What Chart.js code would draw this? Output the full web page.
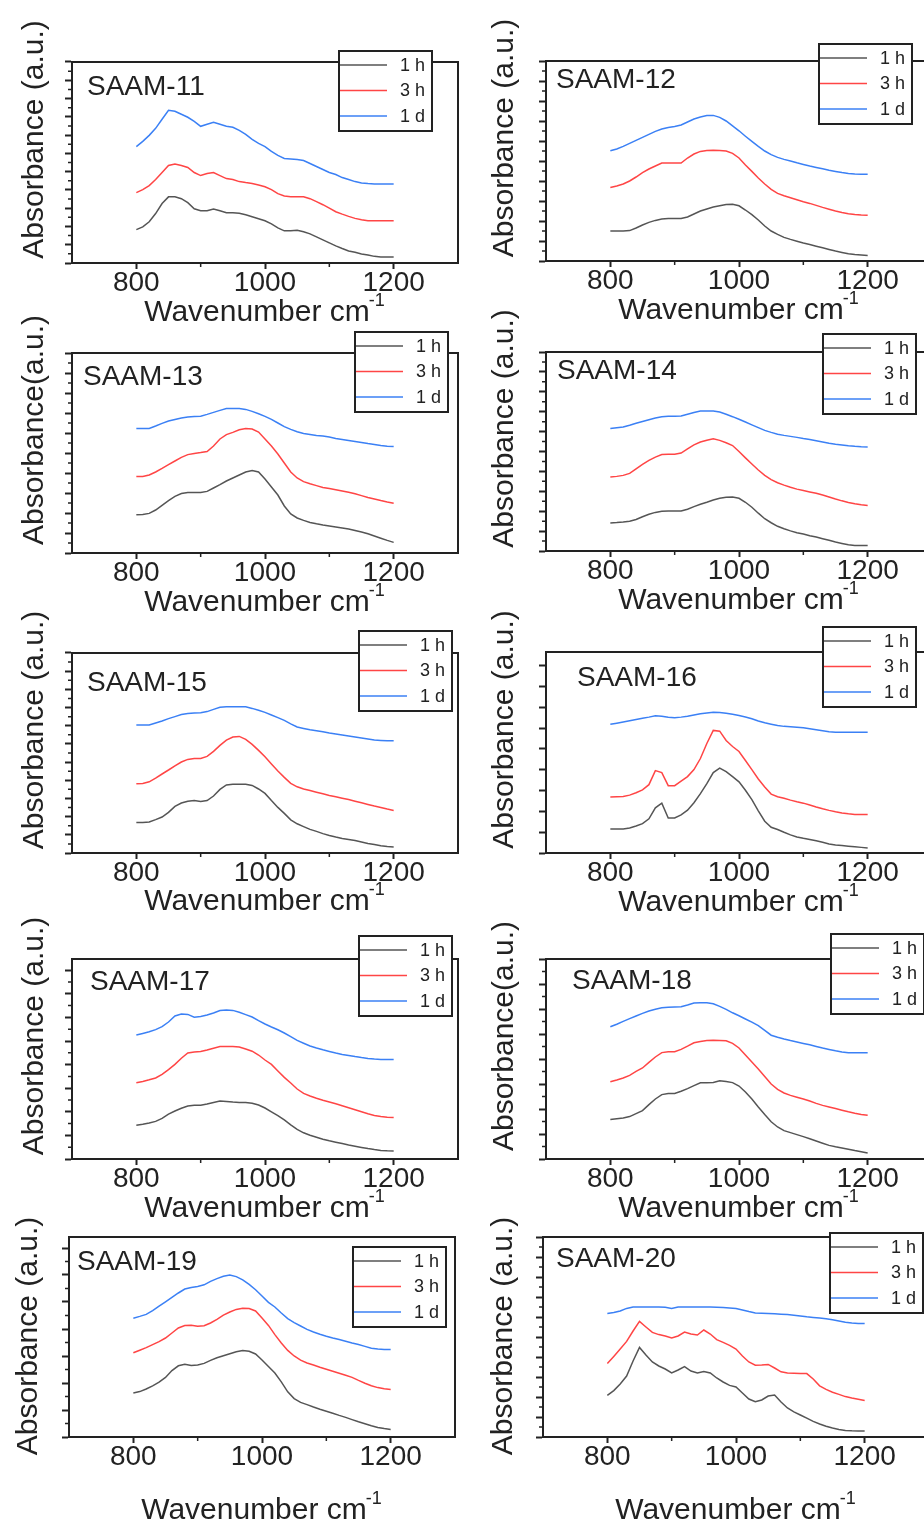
<!DOCTYPE html>
<html>
<head>
<meta charset="utf-8">
<script src="https://cdn.jsdelivr.net/npm/chart.js@4.4.1/dist/chart.umd.min.js"></script>
<style>
  html, body { margin: 0; padding: 0; background: #fff; overflow: hidden; }
  body { width: 924px; height: 1524px; position: relative; }
  canvas { position: absolute; }
</style>
</head>
<body>
<script>
// wavenumber axis shared by every spectrum (cm-1)
const wavenumbers = [800, 810, 820, 830, 840, 850, 860, 870, 880, 890, 900, 910, 920, 930, 940, 950, 960, 970, 980, 990,
  1000, 1010, 1020, 1030, 1040, 1050, 1060, 1070, 1080, 1090, 1100, 1110, 1120, 1130, 1140, 1150, 1160, 1170, 1180, 1190, 1200];
const xTickLabels = [800, 1000, 1200];
const xMinorTicks = [900, 1100];
const seriesLabels = ['1 h', '3 h', '1 d'];
const sampleNames = ['SAAM-11', 'SAAM-12', 'SAAM-13', 'SAAM-14', 'SAAM-15', 'SAAM-16', 'SAAM-17', 'SAAM-18', 'SAAM-19', 'SAAM-20'];

// absorbance, a.u. (0 = bottom of frame, 100 = top of frame)
const saam11_1h = [16.6,18,20.5,24.6,29.6,32.9,32.9,32,30,27,26,26,26.8,26,25,25,24.8,24,23,22,21,19.5,17.5,16,16,16.3,15.5,14.5,13,11.5,10,8.5,7.2,6,5.3,4.5,4,3.3,3,3,3];
const saam11_3h = [35,36.5,38.5,41.5,45,48.5,49.3,48.5,47.5,45,43.5,44.5,45,43.5,42,41.5,40.5,40,39.6,38.8,37.9,36.5,34.5,33.3,33,33,33,32,30.5,29,27.3,25.5,24.3,23.2,22.2,21.5,21,21,21,21,21];
const saam11_1d = [57.9,60.5,63.5,67,71.5,76,75.5,74,72.5,70.5,68,69,70,69,68,67.5,66,64,61.5,59.5,57.9,55.5,53.5,52,51.8,51.5,51,49.5,48,46.5,45,44,42.5,41.5,40.5,39.8,39.5,39.3,39.3,39.3,39.3];

const saam12_1h = [15,15,15,15.2,16.5,18,19.3,20.3,21,21.2,21.2,21.2,22,23.5,25,26,27,27.6,28.2,28.4,27.6,25.5,23.2,20.5,17.5,15,13.3,11.8,10.8,9.9,9,8.2,7.4,6.6,5.8,5,4.3,3.6,3.2,3,2.8];
const saam12_3h = [36.7,37.5,38.5,40,42,44.2,46,47.5,49,49,49,49,51.5,53.5,54.8,55.3,55.4,55.3,55,53.8,51.5,48,44.8,41.5,38.5,35.8,33.8,32.6,31.6,30.6,29.6,28.8,27.8,26.8,25.9,25,24.2,23.6,23.2,23,22.9];
const saam12_1d = [55.1,56,57.3,58.8,60.3,61.8,63.3,64.8,66,66.7,67.2,68,69.5,71,72,72.8,72.8,71.8,70,67.6,65.1,62.4,59.8,57.3,55,53.2,51.8,50.8,50,49.1,48.3,47.5,46.8,46.1,45.4,44.8,44.2,43.7,43.5,43.4,43.4];

const saam13_1h = [19.1,19.3,19.8,21.5,23.8,26.2,28.3,29.7,30.2,30.2,30.2,30.8,32.5,34.2,36,37.5,39,40.5,41.2,40.5,37,33,29,23.5,19.5,17.5,16.3,15.3,14.6,14,13.5,13,12.5,12,11.3,10.5,9.6,8.5,7.4,6.3,5.3];
const saam13_3h = [38.2,38.2,39,40.5,42.3,44.2,46,47.8,49.2,49.8,50.2,50.7,53.5,57,59.2,60.3,61.6,62.3,62,60.5,57,53.5,49.5,45,40.5,37.5,35.7,34.6,33.7,32.8,32.2,31.6,31,30.4,29.6,28.7,27.8,27,26.2,25.5,24.9];
const saam13_1d = [62.3,62.3,62.3,63.5,64.8,66,66.8,67.5,68,68.3,68.4,69.3,70.3,71.3,72.2,72.3,72.3,71.8,70.8,69.6,68.3,66.8,65,63.2,61.8,60.6,59.8,59.3,58.8,58.5,58,57.3,56.8,56.3,55.8,55.3,54.7,54.2,53.7,53.4,53.2];

const saam14_1h = [14.1,14.3,14.6,15,15.8,17.2,18.5,19.4,20,20.1,20.1,20.1,21,22.3,23.5,24.5,25.6,26.5,27,27.1,26.5,24.5,22,19,16.2,14.2,12.4,11.2,10.1,9.2,8.5,7.7,7,6.2,5.4,4.5,3.8,3.1,2.8,2.8,2.8];
const saam14_3h = [37.2,37.5,38,39,41.3,43.5,45.5,47.2,48.5,48.6,48.6,49.2,51.3,53.3,54.8,55.7,56.4,55.6,54.4,53,50,46.8,43.7,40.7,38,35.9,34.3,33.1,32,31.1,30.4,29.7,29,28.1,27.1,26.1,25.2,24.4,23.7,23.2,22.9];
const saam14_1d = [61.5,61.9,62.3,63.2,64.2,65.1,66,66.8,67.5,67.7,67.7,67.8,68.7,69.6,70.3,70.4,70.4,69.8,68.7,67.5,66.2,64.8,63.4,62,60.6,59.6,58.7,58.1,57.6,57.1,56.5,56,55.4,54.8,54.2,53.7,53.3,52.9,52.6,52.4,52.3];

const saam15_1h = [15.3,15.3,15.5,16.7,18,20.3,23.3,25,25.9,26.2,25.8,26.2,28.5,31.8,34,34.4,34.4,34.4,33.8,32,29.8,26.2,22.8,19.8,16.6,14.6,13.2,11.8,10.8,9.7,8.8,8,7.3,6.8,6.2,5.5,4.8,4.2,3.6,3.2,3];
const saam15_3h = [34.6,34.8,35.6,37.4,39.5,41.5,43.6,45.5,46.8,47.3,47.3,48.3,50.8,53.8,56.4,58,58.3,56.8,54.3,51.3,48.1,44.5,41,37.8,34.8,33.1,32,31.2,30.4,29.6,28.8,28.1,27.4,26.7,25.9,25.1,24.3,23.5,22.8,22,21.3];
const saam15_1d = [64,64,64,65,66,67.2,68.2,69.2,69.7,70,70.1,70.7,71.8,72.9,73.1,73.1,73.1,73.1,72.3,71.4,70.3,69,67.7,66.3,64.6,63,62.3,61.6,61.1,60.6,60,59.5,59,58.5,58,57.5,57,56.5,56.3,56.1,56.1];

const saam16_1h = [12,12,12,12.4,13.4,14.6,17,22.5,24.8,17.4,17.4,19,21.3,25,29.5,34.5,40,42.2,40.5,38,35.4,31.2,26.6,21,15.8,12.8,11.7,10.3,9,8,7.3,6.7,6.1,5.3,4.5,4,3.7,3.4,3.1,2.8,2.5];
const saam16_3h = [27.9,28,28.1,28.8,30,31.4,34,41,40,33.5,33.5,35.7,38,41.5,47,54.5,61,60.6,56,53,50.5,46,41.5,36.8,32.8,29.3,28,27.2,26.3,25.5,24.8,23.9,22.9,22,21.2,20.5,19.9,19.5,19.2,19.1,19.1];
const saam16_1d = [64,64.6,65.2,65.8,66.4,67,67.6,68.3,68,67.5,67.3,67.6,68,68.7,69.3,69.7,70,69.9,69.5,69,68.4,67.7,66.8,65.7,64.8,64.1,63.4,63,62.8,62.6,62.3,61.8,61.3,60.8,60.3,60.1,60.1,60.1,60.1,60.1,60.1];

const saam17_1h = [16.9,17.4,18,18.8,20.3,22.4,24,25.4,26.5,26.9,26.9,27.5,28.3,29,28.8,28.5,28.3,28.2,27.9,27,25.5,23.6,21.7,19.6,17.1,14.8,13.1,11.9,10.9,9.9,9.1,8.4,7.7,7,6.4,5.8,5.2,4.7,4.3,4.1,4];
const saam17_3h = [38.1,38.8,39.6,40.5,42.3,44.7,47.3,50.4,53,53.5,53.7,54.5,55.4,56.2,56.2,56.2,56,55,53.9,52,49.5,47.3,44,40.8,38,35,32.8,31.5,30.4,29.4,28.5,27.6,26.6,25.6,24.6,23.6,22.6,21.8,21.2,20.9,20.7];
const saam17_1d = [62,62.8,63.6,64.7,66.2,68.5,71.5,72.5,72.3,70.9,71.3,72,73,74.2,74.5,74.3,73.4,72.2,71,69.2,67.5,66,64.6,63,61.2,59.3,57.9,56.5,55.5,54.6,53.8,53,52.3,51.8,51.2,50.7,50.3,50,49.8,49.8,49.8];

const saam18_1h = [19.7,20.1,20.5,21.2,22.7,24.2,27.2,30,32.2,32.7,32.8,33.9,35.2,36.7,38.1,38.1,38.3,39.1,38.7,38.2,36.5,33.5,30,26,22.2,18.6,16,14.2,13.2,12.2,11.2,10.1,9,7.9,6.8,6.1,5.5,4.9,4.2,3.6,3];
const saam18_3h = [38.6,39.5,40.5,41.8,43.8,45.5,48.3,51,53.2,53.6,53.6,54.8,56.4,58.1,58.7,59.2,59.4,59.3,59.1,57.8,55.5,52,48.5,45,41.2,37.5,34.8,33,31.8,30.9,30,29,27.8,26.8,26,25.2,24.4,23.6,22.9,22.3,21.9];
const saam18_1d = [66.1,67.4,68.8,70.2,71.5,72.8,74,74.9,75.6,75.9,76,76.1,77,78,78.1,78.1,77.6,76.3,74.8,73.1,71.6,70,68.4,66.7,64.3,61.9,60.9,60,59.2,58.5,57.8,57.1,56.3,55.5,54.8,54.1,53.5,53.1,53.1,53.1,53.1];

const saam19_1h = [22,22.7,24,25.6,27.4,29.8,33.2,35.6,36.4,35.8,36,36.8,38.3,39.6,40.6,41.6,42.6,43.2,42.9,41.5,38.5,35.2,32,27.6,22.6,19.2,17.3,16.2,15,13.9,12.9,11.9,10.8,9.8,8.7,7.6,6.6,5.6,4.8,4.2,3.7];
const saam19_3h = [42.1,43.4,44.7,46.2,47.7,49.5,52,54.5,55.7,55.9,55.4,55.6,57,58.8,60.9,62.5,63.8,64.4,64.2,63,59.5,55.8,51.2,47,43.3,40.5,38.4,37,36,34.9,33.9,32.9,31.9,30.9,29.8,28.3,26.9,25.6,24.7,24.1,23.7];
const saam19_1d = [59.4,60.3,61.3,63.2,65.4,67.6,69.8,72,74,74.8,75.3,76.1,77.8,79.2,80.4,81,80.2,78.6,76.3,73.6,70.5,67.3,65,62,59.2,57.2,55.5,53.8,52.5,51.4,50.4,49.5,48.7,47.9,47,46.2,45.3,44.4,44,43.8,43.8];

const saam20_1h = [20.8,23.2,26.5,30.5,38,44.8,41,37.5,35.5,34,32,33.5,35.2,33,32,32.8,32,29.5,27.5,25.8,25,22,19,17.6,18.5,20.5,21,17.5,14.5,12.6,11,9.4,7.8,6.5,5.4,4.5,3.8,3.3,3.1,3,3];
const saam20_3h = [36.7,40.3,44,47.8,53,57.8,55,52.3,51.2,50.5,49.5,50.5,52.5,51.5,51,53.5,51.5,48.7,47.3,45.8,44,40.5,37.5,35.9,36,36.3,34.5,32.6,32,31.9,31.8,31.7,29,25.6,23.8,22.4,21.3,20.2,19.5,18.9,18.3];
const saam20_1d = [61.7,62.2,63,64.3,65,65,65,65,65,64.9,64.3,65,65,65,65,65,65,64.9,64.7,64.5,64.2,63.5,62.7,62,61.9,61.8,61.6,61.4,61.2,60.9,60.5,60.1,59.8,59.5,59.1,58.6,58,57.4,57,56.8,56.7];

const spectra = [
  [saam11_1h, saam11_3h, saam11_1d], [saam12_1h, saam12_3h, saam12_1d],
  [saam13_1h, saam13_3h, saam13_1d], [saam14_1h, saam14_3h, saam14_1d],
  [saam15_1h, saam15_3h, saam15_1d], [saam16_1h, saam16_3h, saam16_1d],
  [saam17_1h, saam17_3h, saam17_1d], [saam18_1h, saam18_3h, saam18_1d],
  [saam19_1h, saam19_3h, saam19_1d], [saam20_1h, saam20_3h, saam20_1d],
];

// layout of each panel (page pixels)
const layout = [
  {left: 72,  top: 62,   bottom: 263,  yStep: 100 / 11, minor: true,  name: [15, 25], legend: [339, 51],   yTitle: 'Absorbance (a.u.)', yTitleX: 43,  shift: -23, xTitleDy: 58},
  {left: 546, top: 61,   bottom: 261,  yStep: 10,       minor: true,  name: [10, 19], legend: [819, 44],   yTitle: 'Absorbance (a.u.)', yTitleX: 513, shift: -23, xTitleDy: 58},
  {left: 72,  top: 353,  bottom: 553,  yStep: 10,       minor: true,  name: [11, 24], legend: [355, 332],  yTitle: 'Absorbance(a.u.)',  yTitleX: 43,  shift: -23, xTitleDy: 58},
  {left: 546, top: 352,  bottom: 551,  yStep: 10,       minor: true,  name: [11, 19], legend: [823, 334],  yTitle: 'Absorbance (a.u.)', yTitleX: 513, shift: -23, xTitleDy: 58},
  {left: 72,  top: 653,  bottom: 853,  yStep: 100 / 11, minor: true,  name: [15, 30], legend: [359, 631],  yTitle: 'Absorbance (a.u.)', yTitleX: 43,  shift: -23, xTitleDy: 57},
  {left: 546, top: 652,  bottom: 853,  yStep: 10.35,    minor: false, name: [31, 26], legend: [823, 627],  yTitle: 'Absorbance (a.u.)', yTitleX: 513, shift: -23, xTitleDy: 58},
  {left: 72,  top: 959,  bottom: 1159, yStep: 11.8,     minor: true,  name: [18, 23], legend: [359, 936],  yTitle: 'Absorbance (a.u.)', yTitleX: 43,  shift: -23, xTitleDy: 58},
  {left: 546, top: 959,  bottom: 1159, yStep: 12.5,     minor: true,  name: [26, 22], legend: [831, 934],  yTitle: 'Absorbance(a.u.)',  yTitleX: 513, shift: -23, xTitleDy: 58},
  {left: 69,  top: 1237, bottom: 1437, yStep: 13.5,     minor: true,  name: [8, 25],  legend: [353, 1247], yTitle: 'Absorbance (a.u.)', yTitleX: 37,  shift: -1,  xTitleDy: 82},
  {left: 543, top: 1237, bottom: 1437, yStep: 10,       minor: true,  name: [13, 22], legend: [830, 1233], yTitle: 'Absorbance (a.u.)', yTitleX: 512, shift: -1,  xTitleDy: 82},
];

const colors = ['#555555', '#ff4545', '#3b80f5'];
const ink = '#222222';
const family = '"Liberation Sans", Arial, sans-serif';
const plotW = 386;
const xAxisH = 40; // room kept under the frame for the tick labels

function decor(i, p, cx, cy) {
  return {
    id: 'decor',
    afterDraw(chart) {
      const ctx = chart.ctx;
      const a = chart.chartArea;
      const xs = chart.scales.x, ys = chart.scales.y;
      ctx.save();
      // top + right frame
      ctx.strokeStyle = ink;
      ctx.lineWidth = 2;
      ctx.beginPath();
      ctx.moveTo(a.left - 1, a.top);
      ctx.lineTo(a.right, a.top);
      ctx.lineTo(a.right, a.bottom);
      ctx.stroke();

      // minor ticks
      ctx.lineWidth = 1.5;
      ctx.beginPath();
      xMinorTicks.forEach(v => {
        const px = xs.getPixelForValue(v);
        ctx.moveTo(px, a.bottom);
        ctx.lineTo(px, a.bottom + 4);
      });
      if (p.minor) {
        ys.ticks.forEach(t => {
          const v = t.value + p.yStep / 2;
          if (v < 100) {
            const py = ys.getPixelForValue(v);
            ctx.moveTo(a.left - 4, py);
            ctx.lineTo(a.left, py);
          }
        });
      }
      ctx.stroke();

      ctx.fillStyle = ink;
      // sample name
      ctx.font = `28px ${family}`;
      ctx.textAlign = 'left';
      ctx.textBaseline = 'middle';
      ctx.fillText(sampleNames[i], a.left + p.name[0], a.top + p.name[1]);

      // y title
      ctx.save();
      ctx.translate(p.yTitleX - cx, (a.top + a.bottom) / 2 + p.shift);
      ctx.rotate(-Math.PI / 2);
      ctx.font = `30px ${family}`;
      ctx.textAlign = 'center';
      ctx.textBaseline = 'alphabetic';
      ctx.fillText(p.yTitle, 0, 0);
      ctx.restore();

      // x title with superscript
      const main = 'Wavenumber cm', sup = '-1';
      ctx.font = `30px ${family}`;
      const wMain = ctx.measureText(main).width;
      ctx.font = `18px ${family}`;
      const wSup = ctx.measureText(sup).width;
      const x0 = (a.left + a.right) / 2 - (wMain + wSup) / 2;
      const base = a.bottom + p.xTitleDy;
      ctx.textAlign = 'left';
      ctx.textBaseline = 'alphabetic';
      ctx.font = `30px ${family}`;
      ctx.fillText(main, x0, base);
      ctx.font = `18px ${family}`;
      ctx.fillText(sup, x0 + wMain - 1, base - 15);

      // legend box
      const bx = p.legend[0] - cx, by = p.legend[1] - cy;
      ctx.fillStyle = '#fff';
      ctx.fillRect(bx, by, 93, 80);
      ctx.strokeStyle = ink;
      ctx.lineWidth = 2;
      ctx.strokeRect(bx, by, 93, 80);
      chart.data.datasets.forEach((ds, k) => {
        const y = by + 14 + k * 25.5;
        ctx.strokeStyle = ds.borderColor;
        ctx.lineWidth = 1.5;
        ctx.beginPath();
        ctx.moveTo(bx + 1, y);
        ctx.lineTo(bx + 48, y);
        ctx.stroke();
        ctx.fillStyle = ink;
        ctx.font = `18px ${family}`;
        ctx.textAlign = 'right';
        ctx.textBaseline = 'middle';
        ctx.fillText(ds.label, bx + 86, y + 1);
      });
      ctx.restore();
    }
  };
}

layout.forEach((p, i) => {
  const cx = p.left < 300 ? 0 : 470;
  const cy = p.top - 60;
  const h = i >= 8 ? 1524 - cy : 330;
  const canvas = document.createElement('canvas');
  canvas.width = 470;
  canvas.height = h;
  canvas.style.left = cx + 'px';
  canvas.style.top = cy + 'px';
  canvas.style.width = '470px';
  canvas.style.height = h + 'px';
  document.body.appendChild(canvas);

  const padLeft = p.left - cx;
  new Chart(canvas, {
    type: 'line',
    data: {
      datasets: spectra[i].map((arr, k) => ({
        label: seriesLabels[k],
        data: arr.map((v, j) => ({x: wavenumbers[j], y: v})),
        borderColor: colors[k],
        borderWidth: 1.5,
        pointRadius: 0,
        tension: 0,
        fill: false,
      })),
    },
    options: {
      responsive: false,
      animation: false,
      devicePixelRatio: 1,
      layout: {
        padding: {left: padLeft, top: 60, right: 470 - padLeft - plotW, bottom: h - 60 - (p.bottom - p.top) - xAxisH},
      },
      plugins: {legend: {display: false}, tooltip: {enabled: false}},
      scales: {
        x: {
          type: 'linear',
          min: 700,
          max: 1300,
          afterFit: s => { s.height = xAxisH; },
          afterBuildTicks: s => { s.ticks = xTickLabels.map(v => ({value: v})); },
          grid: {drawOnChartArea: false, drawTicks: true, tickLength: 6, tickWidth: 2, tickColor: ink},
          border: {color: ink, width: 2},
          ticks: {
            font: {family: family, size: 28, lineHeight: 1},
            color: ink,
            padding: 0,
            maxRotation: 0,
            autoSkip: false,
            callback: v => String(v),
          },
        },
        y: {
          type: 'linear',
          min: 0,
          max: 100,
          afterFit: s => { s.width = 0; },
          afterBuildTicks: s => {
            const t = [];
            for (let v = 0; v <= 100.01; v += p.yStep) t.push({value: v});
            s.ticks = t;
          },
          grid: {drawOnChartArea: false, drawTicks: true, tickLength: 7, tickWidth: 2, tickColor: ink},
          border: {color: ink, width: 2},
          ticks: {display: false},
        },
      },
    },
    plugins: [decor(i, p, cx, cy)],
  });
});
</script>
</body>
</html>
